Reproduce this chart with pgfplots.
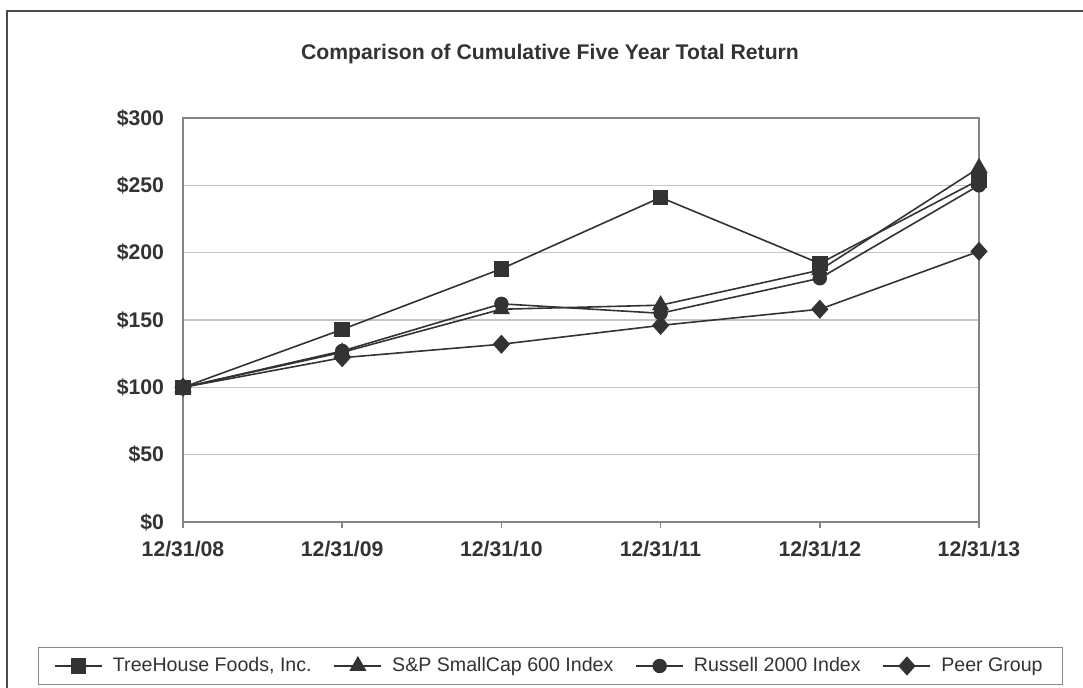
\documentclass[border=0pt]{standalone}
\usepackage{pgfplots}
\pgfplotsset{compat=1.18}
\usepackage{fontspec}
\setmainfont{Liberation Sans}
\definecolor{ln}{HTML}{333333}
\definecolor{gridc}{HTML}{C4C4C4}
\definecolor{framec}{HTML}{858585}
\definecolor{outer}{HTML}{4A4A4A}
\definecolor{txt}{HTML}{333333}
\begin{document}
\begin{tikzpicture}
\useasboundingbox (0,0) rectangle (541.5pt,343.5pt);
\draw[line width=1.1pt, color=outer] (3.5pt,-2pt) -- (3.5pt,338pt) -- (545pt,338pt);
\node[font=\fontsize{10.6}{12}\selectfont\bfseries, text=txt] at (275pt,316.5pt) {Comparison of Cumulative Five Year Total Return};
\begin{axis}[
  at={(91.5pt,82.5pt)}, anchor=south west,
  scale only axis, width=398pt, height=202pt,
  xmin=0, xmax=5, ymin=0, ymax=300,
  xtick={0,1,2,3,4,5},
  xticklabels={12/31/08,12/31/09,12/31/10,12/31/11,12/31/12,12/31/13},
  ytick={0,50,100,150,200,250,300},
  yticklabels={\$0,\$50,\$100,\$150,\$200,\$250,\$300},
  xtick pos=bottom,
  ymajorgrids,
  grid style={color=gridc, line width=0.75pt},
  axis line style={color=framec, line width=0.75pt},
  tick align=outside,
  major tick length=3pt,
  xtick style={color=framec, line width=0.75pt},
  ytick style={draw=none},
  ticklabel style={font=\fontsize{10.6}{12}\selectfont\bfseries, text=txt},
  xticklabel style={yshift=-3pt},
  yticklabel style={xshift=-3pt},
  legend columns=4,
  legend style={at={(0.4617,-0.3564)}, anchor=center, draw=framec, line width=0.75pt,
    font=\fontsize{9.8}{11}\selectfont, text=txt, inner xsep=8pt, inner ysep=3pt,
    /tikz/every odd column/.append style={column sep=3pt},
    /tikz/every even column/.append style={column sep=9pt}},
  legend image code/.code={\draw[mark repeat=2,mark phase=2,#1] plot coordinates {(0pt,0pt)(11.75pt,0pt)(23.5pt,0pt)};},
  every axis plot/.append style={color=ln, line width=0.8pt, mark options={solid, fill=ln, draw=ln}},
]
\addplot[mark=square*, mark size=3.5pt] coordinates {(0,100)(1,143)(2,188)(3,241)(4,192)(5,254)};
\addlegendentry{TreeHouse Foods, Inc.}
\addplot[mark=triangle*, mark size=4.2pt] coordinates {(0,100)(1,126)(2,158)(3,161)(4,187)(5,263)};
\addlegendentry{S\&P SmallCap 600 Index}
\addplot[mark=*, mark size=3.2pt] coordinates {(0,100)(1,127)(2,162)(3,155)(4,181)(5,250)};
\addlegendentry{Russell 2000 Index}
\addplot[mark=diamond*, mark size=4.2pt, mark options={solid, fill=ln, draw=ln, xscale=1.2}] coordinates {(0,100)(1,122)(2,132)(3,146)(4,158)(5,201)};
\addlegendentry{Peer Group}
\end{axis}
\end{tikzpicture}
\end{document}
